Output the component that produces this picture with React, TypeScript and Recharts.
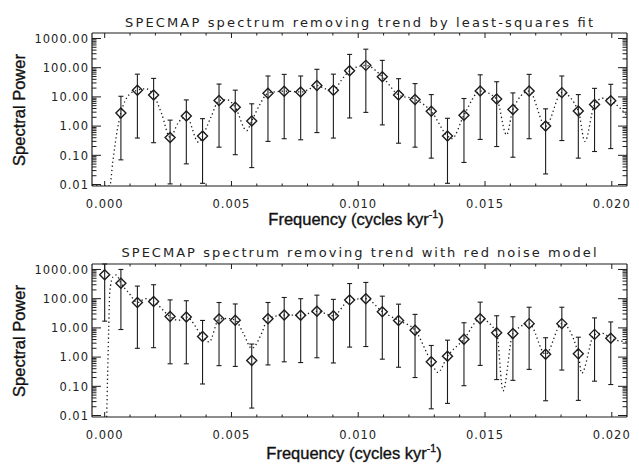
import React from 'react';
import { ComposedChart, Line, Scatter, ErrorBar, XAxis, YAxis } from 'recharts';

// ---------- axes / tick labels ----------
const X_DOMAIN: [number, number] = [-0.0005, 0.0206];
const Y_DOMAIN: [number, number] = [0.0089, 1540];
const xMajorTicks = [0, 0.005, 0.01, 0.015, 0.02];
const xMinorTicks = [0.001, 0.002, 0.003, 0.004, 0.006, 0.007, 0.008, 0.009, 0.011, 0.012, 0.013, 0.014, 0.016, 0.017, 0.018, 0.019];
const yMajorTicks = [0.01, 0.1, 1, 10, 100, 1000];
const yMinorMultipliers = [2, 3, 4, 5, 6, 7, 8, 9];

const titleTop = 'SPECMAP spectrum removing trend by least-squares fit';
const titleBottom = 'SPECMAP spectrum removing trend with red noise model';
const yTitle = 'Spectral Power';
const xTitleMain = 'Frequency (cycles kyr';
const xTitleSup = '-1';

// ---------- top panel: least-squares detrended ----------
const topFreq = [0.00064, 0.00129, 0.00193, 0.00258, 0.00322, 0.00386, 0.00451, 0.00515, 0.0058, 0.00644, 0.00708, 0.00773, 0.00837, 0.00902, 0.00966, 0.0103, 0.01095, 0.01159, 0.01224, 0.01288, 0.01352, 0.01417, 0.01481, 0.01546, 0.0161, 0.01674, 0.01739, 0.01803, 0.01868, 0.01932, 0.01996];
const topPower = [2.8, 17, 11.7, 0.41, 2.2, 0.46, 7.5, 4.4, 1.5, 13.4, 15.7, 14.8, 24.5, 17, 79, 120, 49, 11.7, 8.2, 3.2, 0.46, 2.35, 15.8, 8.5, 3.7, 15.8, 1.0, 14, 3.3, 5.5, 7.4];
const topUpper = [10.5, 60, 43, 1.6, 7.9, 1.8, 27.5, 17, 5.8, 52, 59, 52, 88, 60, 285, 430, 178, 42, 28.5, 12, 1.85, 8.8, 57, 33, 13.7, 59, 3.9, 52, 12, 19.6, 27];
const topLower = [0.07, 0.39, 0.27, 0.0105, 0.051, 0.011, 0.19, 0.105, 0.038, 0.3, 0.37, 0.34, 0.6, 0.39, 1.9, 2.95, 1.1, 0.26, 0.19, 0.08, 0.011, 0.057, 0.35, 0.2, 0.086, 0.37, 0.023, 0.32, 0.08, 0.135, 0.17];
const topCurveFreq = [-0.0005, 0.0002, 0.00032, 0.00051, 0.00064, 0.00097, 0.00129, 0.00161, 0.00193, 0.00225, 0.00258, 0.0029, 0.00322, 0.0037, 0.00386, 0.00419, 0.00451, 0.00483, 0.00515, 0.0056, 0.0058, 0.00612, 0.00644, 0.00676, 0.00708, 0.00773, 0.00805, 0.00837, 0.0087, 0.00902, 0.00934, 0.00966, 0.00998, 0.0103, 0.01095, 0.01159, 0.01224, 0.01288, 0.01352, 0.01369, 0.01417, 0.01481, 0.01546, 0.01585, 0.0161, 0.01674, 0.01739, 0.01803, 0.01868, 0.01894, 0.01932, 0.01964, 0.01996, 0.0206];
const topCurvePower = [0.0089, 0.0089, 0.06, 0.85, 2.8, 12, 17, 19, 11.7, 2.6, 0.41, 1.3, 2.2, 0.28, 0.46, 2.0, 7.5, 8, 4.4, 0.7, 1.5, 5.5, 13.4, 15, 15.7, 14.8, 18, 24.5, 19, 17, 38, 79, 108, 120, 49, 11.7, 8.2, 3.2, 0.46, 0.37, 2.35, 15.8, 8.5, 0.5, 3.7, 15.8, 1.0, 14, 3.3, 0.3, 5.5, 9, 7.4, 2.3];

// ---------- bottom panel: red-noise detrended ----------
const botFreq = [0, 0.00064, 0.00129, 0.00193, 0.00258, 0.00322, 0.00386, 0.00451, 0.00515, 0.0058, 0.00644, 0.00708, 0.00773, 0.00837, 0.00902, 0.00966, 0.0103, 0.01095, 0.01159, 0.01224, 0.01288, 0.01352, 0.01417, 0.01481, 0.01546, 0.0161, 0.01674, 0.01739, 0.01803, 0.01868, 0.01932, 0.01996];
const botPower = [660, 340, 74, 80, 24.5, 23.5, 5.1, 20, 18.2, 0.76, 20.5, 27.4, 27, 37, 26, 91, 100, 36, 18, 8.3, 0.69, 1.07, 4.1, 20.5, 6.8, 6.4, 14, 1.26, 14, 1.3, 6, 4.4];
const botUpper = [1540, 1000, 270, 300, 91, 85, 18, 74, 66, 2.8, 74, 110, 100, 132, 95, 330, 360, 122, 65, 29, 2.5, 3.8, 15, 76, 26, 24, 51, 4.6, 51, 4.8, 22, 16];
const botLower = [17, 8.8, 2.0, 2.1, 0.59, 0.59, 0.12, 0.51, 0.48, 0.018, 0.54, 0.69, 0.65, 0.95, 0.63, 2.2, 2.3, 0.85, 0.45, 0.2, 0.017, 0.026, 0.105, 0.52, 0.17, 0.16, 0.38, 0.032, 0.36, 0.033, 0.15, 0.115];
const botCurveFreq = [0.00008, 0.00016, 0.0002, 0.00033, 0.00046, 0.00064, 0.00097, 0.00129, 0.00161, 0.00193, 0.00258, 0.0029, 0.00322, 0.00386, 0.00412, 0.00451, 0.00483, 0.00515, 0.00547, 0.0058, 0.00619, 0.00644, 0.00708, 0.00773, 0.00837, 0.00902, 0.00966, 0.0103, 0.01095, 0.01159, 0.01224, 0.01288, 0.01314, 0.01352, 0.01417, 0.01481, 0.01546, 0.01571, 0.0161, 0.01674, 0.01739, 0.01803, 0.01868, 0.01881, 0.01932, 0.01964, 0.01996, 0.0206];
const botCurvePower = [0.0089, 10, 170, 560, 650, 340, 150, 74, 100, 80, 24.5, 18, 23.5, 5.1, 3.3, 20, 21, 18.6, 6.5, 2.0, 6.5, 21, 27.4, 27, 37, 26, 91, 100, 36, 18, 8.3, 0.69, 0.3, 1.07, 4.1, 20.5, 6.8, 0.07, 6.4, 14, 1.26, 14, 1.3, 0.28, 6, 6.5, 4.4, 3.3];

const INK = '#1c1c1c';

const buildPoints = (f: number[], v: number[], lo: number[], hi: number[]) =>
  f.map((x, i) => ({ f: x, v: v[i], err: [v[i] - lo[i], hi[i] - v[i]] }));
const buildCurve = (f: number[], v: number[]) => f.map((x, i) => ({ f: x, v: v[i] }));

const xTicks = [...xMajorTicks, ...xMinorTicks].sort((a, b) => a - b);
const yTicks: number[] = [...yMajorTicks];
yMajorTicks.slice(0, -1).forEach((d) => yMinorMultipliers.forEach((m) => yTicks.push(m * d)));
yTicks.sort((a, b) => a - b);

const isMajorY = (v: number) => Math.abs(Math.log10(v) - Math.round(Math.log10(v))) < 1e-6;
const isMajorX = (v: number) => xMajorTicks.some((t) => Math.abs(t - v) < 1e-9);

const tickFont = { fontFamily: 'DejaVu Sans, sans-serif', fontSize: 11.5, letterSpacing: 1.0, fill: '#222' };

const LeftTick = (p: any) => {
  const v = p.payload.value;
  const major = isMajorY(v);
  return (
    <g>
      <line x1={p.x} x2={p.x + (major ? 9 : 4.5)} y1={p.y} y2={p.y} stroke={INK} strokeWidth={1} />
      {major ? (
        <text x={p.x - 3} y={p.y + 4.2} textAnchor="end" {...tickFont}>
          {v.toFixed(2)}
        </text>
      ) : null}
    </g>
  );
};
const RightTick = (p: any) => {
  const major = isMajorY(p.payload.value);
  return <line x1={p.x} x2={p.x - (major ? 9 : 4.5)} y1={p.y} y2={p.y} stroke={INK} strokeWidth={1} />;
};
const BottomTick = (p: any) => {
  const v = p.payload.value;
  const major = isMajorX(v);
  return (
    <g>
      <line x1={p.x} x2={p.x} y1={p.y} y2={p.y - (major ? 5 : 2.5)} stroke={INK} strokeWidth={1} />
      {major ? (
        <text x={p.x} y={p.y + 22} textAnchor="middle" {...tickFont}>
          {v.toFixed(3)}
        </text>
      ) : null}
    </g>
  );
};
const TopTick = (p: any) => {
  const major = isMajorX(p.payload.value);
  return <line x1={p.x} x2={p.x} y1={p.y} y2={p.y + (major ? 5 : 2.5)} stroke={INK} strokeWidth={1} />;
};

const Diamond = (p: any) => {
  const { cx, cy } = p;
  if (cx == null || cy == null) return null;
  const r = 5;
  return (
    <polygon
      points={`${cx},${cy - r} ${cx + r},${cy} ${cx},${cy + r} ${cx - r},${cy}`}
      fill="none"
      stroke={INK}
      strokeWidth={1.4}
    />
  );
};

const Panel = ({ points, curve }: { points: any[]; curve: any[] }) => (
  <ComposedChart width={639} height={232} margin={{ top: 32, right: 11, bottom: 45, left: 91 }}>
    <XAxis
      xAxisId="b"
      dataKey="f"
      type="number"
      domain={X_DOMAIN}
      allowDataOverflow
      ticks={xTicks}
      interval={0}
      height={1}
      tickSize={0}
      tickMargin={0}
      tick={<BottomTick />}
      axisLine={{ stroke: INK, strokeWidth: 1.2 }}
    />
    <XAxis
      xAxisId="t"
      orientation="top"
      dataKey="f"
      type="number"
      domain={X_DOMAIN}
      allowDataOverflow
      ticks={xTicks}
      interval={0}
      height={1}
      tickSize={0}
      tickMargin={0}
      tick={<TopTick />}
      axisLine={{ stroke: INK, strokeWidth: 1.2 }}
    />
    <YAxis
      yAxisId="l"
      type="number"
      scale="log"
      domain={Y_DOMAIN}
      allowDataOverflow
      ticks={yTicks}
      interval={0}
      width={1}
      tickSize={0}
      tickMargin={0}
      tick={<LeftTick />}
      axisLine={{ stroke: INK, strokeWidth: 1.2 }}
    />
    <YAxis
      yAxisId="r"
      orientation="right"
      type="number"
      scale="log"
      domain={Y_DOMAIN}
      allowDataOverflow
      ticks={yTicks}
      interval={0}
      width={1}
      tickSize={0}
      tickMargin={0}
      tick={<RightTick />}
      axisLine={{ stroke: INK, strokeWidth: 1.2 }}
    />
    <Line
      data={curve}
      dataKey="v"
      xAxisId="b"
      yAxisId="l"
      type="monotone"
      stroke={INK}
      strokeWidth={1.3}
      strokeDasharray="1.3 2.8"
      dot={false}
      activeDot={false}
      isAnimationActive={false}
    />
    <Scatter data={points} dataKey="v" xAxisId="b" yAxisId="l" shape={Diamond} isAnimationActive={false}>
      <ErrorBar dataKey="err" direction="y" width={2.5} stroke={INK} strokeWidth={1.1} isAnimationActive={false} />
    </Scatter>
  </ComposedChart>
);

const titleStyle = { fontFamily: 'DejaVu Sans, sans-serif', fontSize: 13, fill: '#222' };
const axisTitleStyle = { fontFamily: 'Liberation Sans, Arial, sans-serif', fontSize: 16.5, fill: '#111', stroke: '#111', strokeWidth: 0.35 };

export default function App() {
  const topPts = buildPoints(topFreq, topPower, topLower, topUpper);
  const topCurve = buildCurve(topCurveFreq, topCurvePower);
  const botPts = buildPoints(botFreq, botPower, botLower, botUpper);
  const botCurve = buildCurve(botCurveFreq, botCurvePower);
  return (
    <div style={{ position: 'absolute', left: 0, top: 0, width: 639, height: 465, background: '#fff', overflow: 'hidden' }}>
      <div style={{ position: 'absolute', left: 0, top: 0 }}>
        <Panel points={topPts} curve={topCurve} />
      </div>
      <div style={{ position: 'absolute', left: 0, top: 231 }}>
        <Panel points={botPts} curve={botCurve} />
      </div>
      <svg width={639} height={465} style={{ position: 'absolute', left: 0, top: 0, pointerEvents: 'none' }}>
        <text x={359} y={26.5} textAnchor="middle" textLength={468} lengthAdjust="spacing" {...titleStyle}>
          {titleTop}
        </text>
        <text x={359} y={256.5} textAnchor="middle" textLength={475} lengthAdjust="spacing" {...titleStyle}>
          {titleBottom}
        </text>
        <text x={24.5} y={110} textAnchor="middle" transform="rotate(-90 24.5 110)" {...axisTitleStyle}>
          {yTitle}
        </text>
        <text x={24.5} y={341} textAnchor="middle" transform="rotate(-90 24.5 341)" {...axisTitleStyle}>
          {yTitle}
        </text>
        <text x={356} y={225} textAnchor="middle" {...axisTitleStyle}>
          {xTitleMain}
          <tspan dy={-7} fontSize={10.5}>{xTitleSup}</tspan>
          <tspan dy={7}>)</tspan>
        </text>
        <text x={354} y={459} textAnchor="middle" {...axisTitleStyle}>
          {xTitleMain}
          <tspan dy={-7} fontSize={10.5}>{xTitleSup}</tspan>
          <tspan dy={7}>)</tspan>
        </text>
      </svg>
    </div>
  );
}
